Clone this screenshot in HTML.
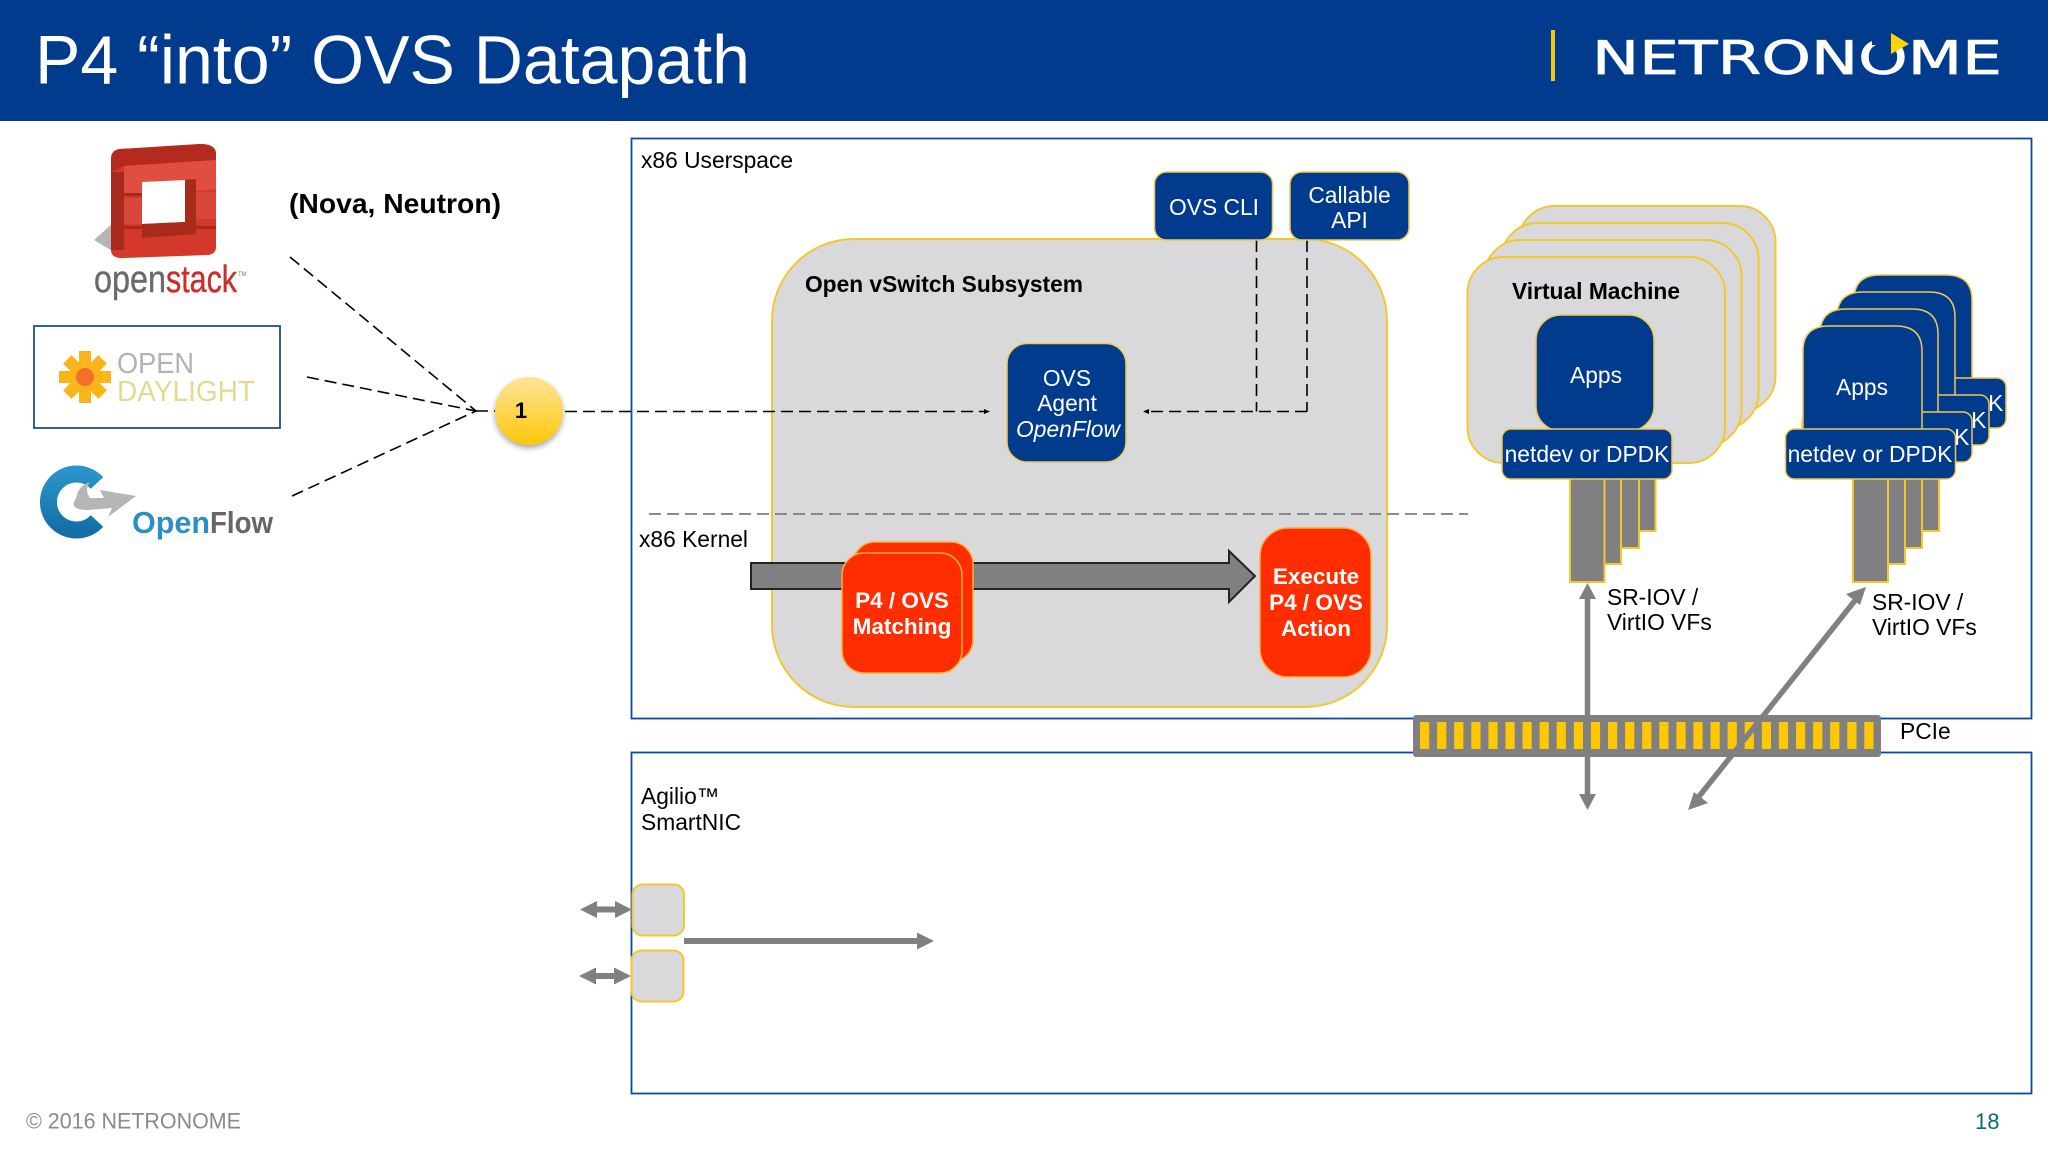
<!DOCTYPE html>
<html><head><meta charset="utf-8"><style>
html,body{margin:0;padding:0;background:#fff;width:2048px;height:1152px;overflow:hidden}
svg{display:block}
text{font-family:"Liberation Sans",sans-serif;fill:#000}
.w{fill:#fff}.m{text-anchor:middle}.b{font-weight:bold}
.g{fill:#d9d9db;stroke:#f2c82f;stroke-width:2}
.n{fill:#003b8e;stroke:#f2c94c;stroke-width:1.5}
.o{fill:#ff2d00;stroke:#fbb03b;stroke-width:1.5}
.v{fill:#808082;stroke:#f2c82f;stroke-width:2}
.s{fill:#ffc800}
.d{stroke:#000;stroke-width:1.6;stroke-dasharray:12 6;fill:none}
.a{fill:#808082}
</style></head><body>
<svg width="2048" height="1152" viewBox="0 0 2048 1152" xmlns="http://www.w3.org/2000/svg">
<defs>
<linearGradient id="yg" x1="0" y1="0" x2="0" y2="1"><stop offset="0" stop-color="#ffe49a"/><stop offset="1" stop-color="#fdc705"/></linearGradient>
<linearGradient id="of" x1="0" y1="0" x2="0" y2="1"><stop offset="0" stop-color="#2a93c9"/><stop offset="1" stop-color="#146fa8"/></linearGradient>
<filter id="sh" x="-30%" y="-30%" width="160%" height="160%"><feDropShadow dx="0" dy="3" stdDeviation="3" flood-color="#000" flood-opacity=".35"/></filter>
</defs>
<rect width="2048" height="1152" fill="#fff"/>
<!-- header -->
<rect width="2048" height="121" fill="#003b8e"/>
<text x="35" y="83.5" font-size="69" class="w" textLength="715" lengthAdjust="spacingAndGlyphs">P4 “into” OVS Datapath</text>
<rect x="1551" y="30" width="4" height="51" fill="#f5c518"/>
<text x="1592" y="74" font-size="46" class="w" stroke="#fff" stroke-width=".7" style="font-family:'DejaVu Sans',sans-serif" textLength="410" lengthAdjust="spacingAndGlyphs">NETRONOME</text>
<rect x="1872" y="36" width="20" height="9" fill="#003b8e"/>
<polygon points="1891,33 1909,44 1891,54" fill="#ffd500"/>

<!-- outer containers -->
<rect x="631.5" y="138.5" width="1400" height="580" fill="#fff" stroke="#0b4a9e" stroke-width="1.8"/>
<rect x="631.5" y="752.5" width="1400" height="341" fill="#fff" stroke="#0b4a9e" stroke-width="1.8"/>
<text x="641" y="168" font-size="22.8">x86 Userspace</text>

<!-- left logos -->
<polygon points="112,224 94,240 124,258" fill="#b5b5b5"/>
<path d="M111,159 Q111,150 120,149 L200,144 Q216,144 216,154 L216,247 Q216,254 208,255 L125,258 Q111,259 111,250 Z" fill="#d3382a"/>
<path d="M111,159 Q111,150 120,149 L200,144 Q216,144 216,154 L216,160 L124,166 L111,172 Z" fill="#b52a1f"/>
<path d="M124,166 L216,160 L216,189 L196,191 L196,179 L142,182 L142,193 L124,195 Z" fill="#e04e42"/>
<polygon points="142,182 185,180 185,222 142,224" fill="#fff"/>
<polygon points="185,180 196,179 196,234 142,238 142,224 185,222" fill="#a82a18"/>
<rect x="196" y="192" width="20" height="27" fill="#d9473a"/>
<rect x="124" y="198" width="18" height="26" fill="#d9473a"/>
<rect x="111" y="172" width="13" height="78" fill="#a82a1c"/>
<rect x="111" y="193" width="31" height="3" fill="#a82a1c"/>
<rect x="124" y="226" width="92" height="3" fill="#a82a1c"/>
<text x="94" y="292" font-size="38" stroke="#6a6a6a" stroke-width=".4" style="fill:#6a6a6a" textLength="72" lengthAdjust="spacingAndGlyphs">open</text>
<text x="166" y="292" font-size="38" stroke="#c9302a" stroke-width=".4" style="fill:#c9302a" textLength="71" lengthAdjust="spacingAndGlyphs">stack</text>
<text x="238" y="276" font-size="6" style="fill:#777">TM</text>
<text x="289" y="213" font-size="28" class="b" textLength="212" lengthAdjust="spacingAndGlyphs">(Nova, Neutron)</text>

<rect x="34" y="326" width="246" height="102" fill="#fff" stroke="#1f4e8c" stroke-width="1.8"/>
<g transform="translate(85,377)" fill="#fbb419">
<rect x="-26" y="-6" width="52" height="12"/>
<rect x="-6" y="-26" width="12" height="52"/>
<rect x="-25" y="-6" width="50" height="12" transform="rotate(45)"/>
<rect x="-25" y="-6" width="50" height="12" transform="rotate(-45)"/>
<circle r="9" fill="#f4702a"/>
</g>
<text x="117" y="373" font-size="29" style="fill:#b2b2b2" textLength="77" lengthAdjust="spacingAndGlyphs">OPEN</text>
<text x="117" y="401" font-size="29" style="fill:#e6d88f" textLength="138" lengthAdjust="spacingAndGlyphs">DAYLIGHT</text>

<path d="M97,483 A28,28 0 1 0 97,521" fill="none" stroke="url(#of)" stroke-width="17"/>
<path d="M76,498 Q68,510 88,510 L112,508 L108,517 L136,496 L100,490 L104,498 L90,498 Q84,490 90,482 Q78,486 76,498Z" fill="#b4b6b8"/>
<text x="132" y="533" font-size="31" class="b" style="fill:#2a8fc4" textLength="78" lengthAdjust="spacingAndGlyphs">Open</text>
<text x="210" y="533" font-size="31" class="b" style="fill:#666" textLength="63" lengthAdjust="spacingAndGlyphs">Flow</text>

<!-- fan lines -->
<line x1="290" y1="257" x2="476" y2="411" class="d"/>
<line x1="307" y1="377" x2="476" y2="411" class="d"/>
<line x1="292" y1="496" x2="476" y2="411" class="d"/>
<line x1="476" y1="411" x2="497" y2="411" class="d"/>

<!-- subsystem -->
<rect x="772" y="239" width="615" height="468" rx="82" class="g"/>
<line x1="565" y1="411.5" x2="985" y2="411.5" class="d"/>
<polygon points="990,411.5 984,409 984,414" fill="#000"/>
<ellipse cx="529" cy="411" rx="34" ry="34" fill="url(#yg)" filter="url(#sh)"/>
<text x="521" y="418" font-size="22" class="b m">1</text>
<text x="805" y="292" font-size="23" class="b" textLength="278" lengthAdjust="spacingAndGlyphs">Open vSwitch Subsystem</text>
<line x1="1256.5" y1="240" x2="1256.5" y2="411.5" class="d"/>
<line x1="1307" y1="240" x2="1307" y2="411.5" class="d"/>
<line x1="1307" y1="411.5" x2="1148" y2="411.5" class="d"/>
<polygon points="1143,411.5 1149,409 1149,414" fill="#000"/>
<rect x="1154.5" y="172" width="118" height="68" rx="12" class="n"/>
<text x="1214" y="215" font-size="22.8" class="w m">OVS CLI</text>
<rect x="1290" y="172" width="119" height="68" rx="12" class="n"/>
<text x="1349.5" y="203" font-size="22.8" class="w m">Callable</text>
<text x="1349.5" y="228" font-size="22.8" class="w m">API</text>
<rect x="1007" y="343.5" width="119" height="118.5" rx="20" class="n"/>
<text x="1067" y="386" font-size="22.8" class="w m">OVS</text>
<text x="1067" y="411" font-size="22.8" class="w m">Agent</text>
<text x="1068" y="437" font-size="22.8" class="w m" font-style="italic">OpenFlow</text>

<line x1="649" y1="514" x2="1468" y2="514" stroke="#7d7d7d" stroke-width="1.8" stroke-dasharray="12 6"/>
<text x="639" y="547" font-size="22.8">x86 Kernel</text>
<polygon points="751,563 1229,563 1229,551 1255,576 1229,602 1229,589 751,589" fill="#808082" stroke="#222" stroke-width="2"/>
<rect x="853" y="542" width="120" height="120" rx="22" class="o"/>
<rect x="842" y="553" width="120" height="120" rx="22" class="o"/>
<text x="902" y="608" font-size="22.5" class="w m b">P4 / OVS</text>
<text x="902" y="634" font-size="22.5" class="w m b">Matching</text>
<rect x="1260" y="528" width="111" height="149" rx="28" class="o"/>
<text x="1316" y="584" font-size="22.5" class="w m b">Execute</text>
<text x="1316" y="610" font-size="22.5" class="w m b">P4 / OVS</text>
<text x="1316" y="636" font-size="22.5" class="w m b">Action</text>

<!-- VM stack -->
<rect x="1518.5" y="206" width="257" height="206" rx="36" class="g"/>
<rect x="1501.5" y="223" width="257" height="206" rx="36" class="g"/>
<rect x="1484.5" y="240" width="257" height="206" rx="36" class="g"/>
<rect x="1467.5" y="257" width="257.5" height="206" rx="36" class="g"/>
<text x="1596" y="299" font-size="22.8" class="b m">Virtual Machine</text>
<rect x="1536" y="315" width="118" height="116" rx="25" class="n"/>
<text x="1596" y="383" font-size="22.8" class="w m">Apps</text>
<rect x="1621" y="460" width="34.5" height="71" class="v"/>
<rect x="1604" y="470" width="35" height="78" class="v"/>
<rect x="1587" y="470" width="34" height="94" class="v"/>
<rect x="1570" y="470" width="34.5" height="112" class="v"/>
<rect x="1502" y="429" width="170" height="50" rx="9" class="n"/>
<text x="1587" y="462" font-size="22.8" class="w m">netdev or DPDK</text>
<text x="1607" y="605" font-size="22.8">SR-IOV /</text>
<text x="1607" y="630" font-size="22.8">VirtIO VFs</text>

<!-- second stack -->
<g>
<path d="M1854,429 V300 Q1854,275 1880,275 H1946 Q1972,275 1972,300 V429 Z" class="n"/>
<rect x="1836" y="378" width="170" height="50" rx="9" class="n"/>
<text x="1921" y="411" font-size="22.8" class="w m">netdev or DPDK</text>
<path d="M1837,429 V317 Q1837,292 1863,292 H1929 Q1955,292 1955,317 V429 Z" class="n"/>
<rect x="1819" y="395" width="170" height="50" rx="9" class="n"/>
<text x="1904" y="428" font-size="22.8" class="w m">netdev or DPDK</text>
<path d="M1820,429 V334 Q1820,309 1846,309 H1912 Q1938,309 1938,334 V429 Z" class="n"/>
<rect x="1802" y="412" width="170" height="50" rx="9" class="n"/>
<text x="1887" y="445" font-size="22.8" class="w m">netdev or DPDK</text>
<path d="M1803,432 V351 Q1803,326 1829,326 H1896 Q1922,326 1922,351 V432 Z" class="n"/>
<text x="1862" y="395" font-size="22.8" class="w m">Apps</text>
<rect x="1905" y="460" width="34" height="71" class="v"/>
<rect x="1888" y="470" width="34" height="78" class="v"/>
<rect x="1870" y="470" width="35" height="94" class="v"/>
<rect x="1853" y="470" width="35" height="112" class="v"/>
<rect x="1785.5" y="429" width="170" height="50" rx="9" class="n"/>
<text x="1870" y="462" font-size="22.8" class="w m">netdev or DPDK</text>
</g>
<text x="1872" y="610" font-size="22.8">SR-IOV /</text>
<text x="1872" y="635" font-size="22.8">VirtIO VFs</text>

<!-- PCIe -->
<rect x="1413" y="715" width="468" height="42" rx="3" fill="#808082"/>
<g class="s">
<rect class="s" x="1420" y="722" width="9.2" height="27"/><rect class="s" x="1437.1" y="722" width="9.2" height="27"/><rect class="s" x="1454.2" y="722" width="9.2" height="27"/><rect class="s" x="1471.3" y="722" width="9.2" height="27"/><rect class="s" x="1488.4" y="722" width="9.2" height="27"/><rect class="s" x="1505.5" y="722" width="9.2" height="27"/><rect class="s" x="1522.5" y="722" width="9.2" height="27"/><rect class="s" x="1539.6" y="722" width="9.2" height="27"/><rect class="s" x="1556.7" y="722" width="9.2" height="27"/><rect class="s" x="1573.8" y="722" width="9.2" height="27"/><rect class="s" x="1590.9" y="722" width="9.2" height="27"/><rect class="s" x="1608" y="722" width="9.2" height="27"/><rect class="s" x="1625.1" y="722" width="9.2" height="27"/><rect class="s" x="1642.2" y="722" width="9.2" height="27"/><rect class="s" x="1659.3" y="722" width="9.2" height="27"/><rect class="s" x="1676.4" y="722" width="9.2" height="27"/><rect class="s" x="1693.4" y="722" width="9.2" height="27"/><rect class="s" x="1710.5" y="722" width="9.2" height="27"/><rect class="s" x="1727.6" y="722" width="9.2" height="27"/><rect class="s" x="1744.7" y="722" width="9.2" height="27"/><rect class="s" x="1761.8" y="722" width="9.2" height="27"/><rect class="s" x="1778.9" y="722" width="9.2" height="27"/><rect class="s" x="1796" y="722" width="9.2" height="27"/><rect class="s" x="1813.1" y="722" width="9.2" height="27"/><rect class="s" x="1830.2" y="722" width="9.2" height="27"/><rect class="s" x="1847.3" y="722" width="9.2" height="27"/><rect class="s" x="1864.3" y="722" width="9.2" height="27"/>
</g>
<text x="1900" y="739" font-size="22.8">PCIe</text>
<!-- PCIe arrows -->
<line x1="1587.5" y1="598" x2="1587.5" y2="795" stroke="#808082" stroke-width="5.5"/>
<polygon points="1587.5,583 1596,599 1579,599" class="a"/>
<polygon points="1587.5,810 1596,794 1579,794" class="a"/>
<line x1="1697" y1="799" x2="1857" y2="598" stroke="#808082" stroke-width="5.5"/>
<polygon points="1866,587 1860,605 1846,594" class="a"/>
<polygon points="1688,810 1694,792 1708,803" class="a"/>

<!-- Agilio -->
<text x="641" y="804" font-size="22.8">Agilio™</text>
<text x="641" y="830" font-size="22.8">SmartNIC</text>
<rect x="632.5" y="884.5" width="51.5" height="51" rx="10" class="g"/>
<rect x="631.5" y="950.5" width="52" height="51" rx="10" class="g"/>
<rect x="684" y="938" width="234" height="6" class="a"/>
<polygon points="917,932.5 934,941 917,949.5" class="a"/>
<rect x="595" y="906.5" width="24" height="6" class="a"/>
<polygon points="580,909.5 597,901 597,918" class="a"/>
<polygon points="632,909.5 615,901 615,918" class="a"/>
<rect x="594" y="973" width="24" height="6" class="a"/>
<polygon points="579,976 596,967.5 596,984.5" class="a"/>
<polygon points="631,976 614,967.5 614,984.5" class="a"/>

<!-- footer -->
<text x="26" y="1128.5" font-size="22" style="fill:#8a8a8a" textLength="215" lengthAdjust="spacingAndGlyphs">© 2016 NETRONOME</text>
<text x="1975" y="1129" font-size="22" style="fill:#0e6a6a">18</text>
</svg>
</body></html>
